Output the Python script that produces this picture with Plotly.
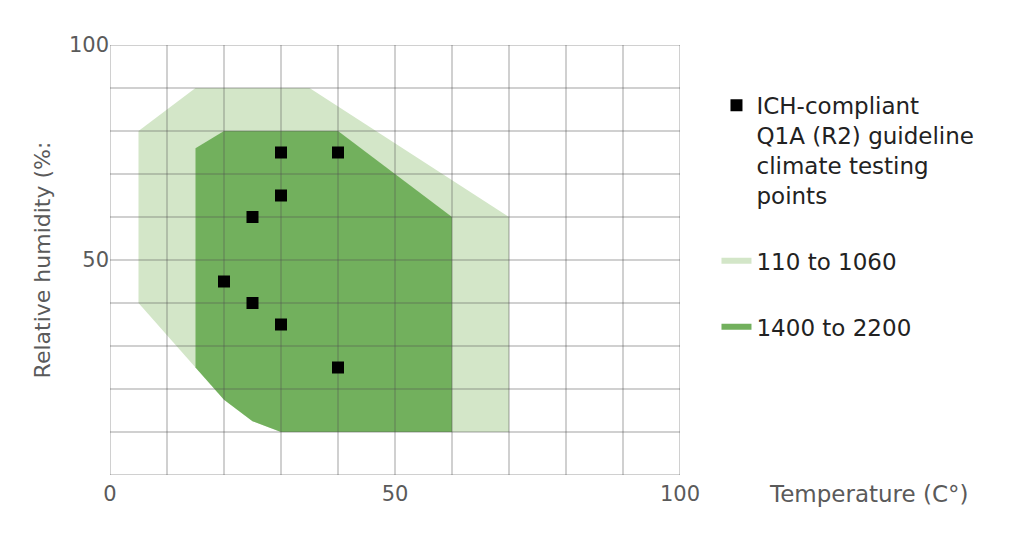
import plotly.graph_objects as go

# ICH Q1A (R2) climate testing points (temperature C, relative humidity %)
point_temp = [30, 40, 30, 25, 20, 25, 30, 40]
point_rh = [75, 75, 65, 60, 45, 40, 35, 25]

# outline of the "110 to 1060" range
light_temp = [5, 15, 35, 70, 70, 30, 25, 20, 15, 5, 5]
light_rh = [80, 90, 90, 60, 10, 10, 12.5, 17.5, 25, 40, 80]

# outline of the "1400 to 2200" range
dark_temp = [15, 20, 40, 60, 60, 30, 25, 20, 15, 15]
dark_rh = [76, 80, 80, 60, 10, 10, 12.5, 17.5, 25, 76]

grid_steps = list(range(0, 101, 10))
x_ticks = [0, 50, 100]
y_ticks = [50, 100]

font_name = "DejaVu Sans"
text_grey = "#5a5a5a"

fig = go.Figure()

fig.add_trace(go.Scatter(x=light_temp, y=light_rh, fill="toself", mode="none",
                         fillcolor="#d3e6c8", name="110 to 1060",
                         legendrank=2, legendgroup="b", hoverinfo="skip"))
fig.add_trace(go.Scatter(x=dark_temp, y=dark_rh, fill="toself", mode="none",
                         fillcolor="#72b05d", name="1400 to 2200",
                         legendrank=3, legendgroup="c", hoverinfo="skip"))

# grid drawn over the shaded areas, so it darkens where it crosses them
gx, gy = [], []
for v in grid_steps:
    gx += [v, v, None, 0, 100, None]
    gy += [0, 100, None, v, v, None]
fig.add_trace(go.Scatter(x=gx, y=gy, mode="lines", showlegend=False,
                         line=dict(color="rgba(80,80,80,0.27)", width=2),
                         hoverinfo="skip"))

fig.add_trace(go.Scatter(x=point_temp, y=point_rh, mode="markers",
                         marker=dict(symbol="square", size=12, color="black"),
                         name="ICH-compliant<br>Q1A (R2) guideline<br>climate testing<br>points",
                         legendrank=1, legendgroup="a"))

fig.add_annotation(text="Temperature (C°)", xref="paper", yref="paper",
                   x=1.152, y=-0.045, xanchor="left", yanchor="middle",
                   showarrow=False, font=dict(size=23, color=text_grey))

fig.update_xaxes(range=[0, 100], tickvals=x_ticks, showgrid=False,
                 zeroline=False, showline=False, ticks="",
                 ticklabelstandoff=4,
                 tickfont=dict(size=21, color=text_grey))
fig.update_yaxes(range=[0, 100], tickvals=y_ticks, showgrid=False,
                 zeroline=False, showline=False, ticks="",
                 tickfont=dict(size=21, color=text_grey),
                 title=dict(text="Relative humidity (%:", standoff=12,
                            font=dict(size=22, color=text_grey)))

fig.update_layout(
    width=1024, height=553,
    margin=dict(l=102, r=352, t=37, b=86),
    plot_bgcolor="white", paper_bgcolor="white",
    font=dict(family=font_name, color="#222"),
    legend=dict(x=1.064, y=0.91, xanchor="left", yanchor="top",
                valign="top", tracegroupgap=33,
                font=dict(size=23, color="#222")),
)

fig.write_html("out.html")
